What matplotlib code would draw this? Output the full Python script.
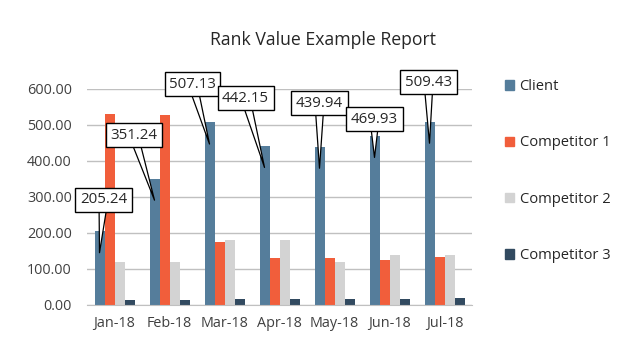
import numpy as np
import matplotlib
matplotlib.use("Agg")
import matplotlib.pyplot as plt
from matplotlib.patches import Patch

plt.rcParams['font.family'] = ['Open Sans', 'DejaVu Sans']

# chart data
months = ["Jan-18", "Feb-18", "Mar-18", "Apr-18", "May-18", "Jun-18", "Jul-18"]
client = [205.24, 351.24, 507.13, 442.15, 439.94, 469.93, 509.43]
competitor1 = [530, 528, 175, 130, 130, 125, 133]
competitor2 = [120, 120, 180, 180, 120, 140, 140]
competitor3 = [14, 14, 17, 17, 17, 17, 20]
series_names = ["Client", "Competitor 1", "Competitor 2", "Competitor 3"]

colors = ["#557d9b", "#f15e3b", "#d3d3d3", "#324a60"]
# callout box offsets (pixels) from the pointer tip
callout_offsets = [(4, 53), (-21, 65), (-17, 60), (-19, 69), (0, 65), (0, 38), (-1, 61)]

fig = plt.figure(figsize=(6.37, 3.57), dpi=100)
ax = fig.add_axes([87 / 637, 1 - 305 / 357, 385 / 637, 216 / 357])

x = np.arange(len(months))
w = 10 / 55
all_series = [client, competitor1, competitor2, competitor3]
for k, vals in enumerate(all_series):
    ax.bar(x + (k - 1.5) * w, vals, width=w, color=colors[k], zorder=2)

ax.set_xlim(-0.5, len(months) - 0.5)
ax.set_ylim(0, 600)
ax.set_yticks(np.arange(0, 601, 100))
ax.set_yticklabels([f"{v:.2f}" for v in np.arange(0, 601, 100)])
ax.set_xticks(x)
ax.set_xticklabels(months)
ax.tick_params(length=0, labelsize=10.4, colors="#404040")
ax.tick_params(axis="y", pad=11)
ax.tick_params(axis="x", pad=8)
ax.grid(axis="y", color="#c0c0c0", linewidth=1, zorder=0)
for s in ["top", "right", "left"]:
    ax.spines[s].set_visible(False)
ax.spines["bottom"].set_color("#c0c0c0")

# callouts on client bars: wedge first, then the box on top
for i, v in enumerate(client):
    tip = (x[i] - 1.5 * w, v - 60)
    ax.annotate("", xy=tip, xytext=callout_offsets[i], textcoords="offset pixels",
                zorder=4,
                arrowprops=dict(arrowstyle="wedge,tail_width=0.65", mutation_scale=10,
                                fc="white", ec="black", lw=0.9, shrinkA=0, shrinkB=0))
    ax.annotate(f"{v:.2f}", xy=tip, xytext=callout_offsets[i],
                textcoords="offset pixels", ha="center", va="center",
                fontsize=10.8, color="#262626", zorder=5,
                bbox=dict(boxstyle="square,pad=0.3", fc="white", ec="black", lw=1))

fig.text(323 / 637, 1 - 40 / 357, "Rank Value Example Report", ha="center", va="center",
         fontsize=12.7, color="#262626")

handles = [Patch(color=c) for c in colors]
fig.legend(handles, series_names, loc="upper left", bbox_to_anchor=(492 / 637, 1 - 66 / 357),
           frameon=False, fontsize=10.6, labelcolor="#262626", handlelength=0.62,
           handleheight=0.62, handletextpad=0.35, labelspacing=2.8)

fig.savefig("out.png", dpi=100)
